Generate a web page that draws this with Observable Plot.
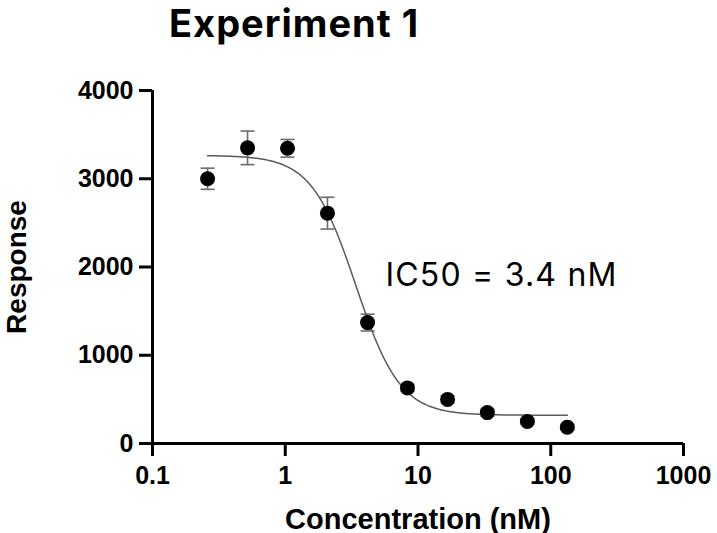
<!DOCTYPE html>
<html>
<head>
<meta charset="utf-8">
<script src="https://cdn.jsdelivr.net/npm/d3@7"></script>
<script src="https://cdn.jsdelivr.net/npm/@observablehq/plot@0.6"></script>
<style>
  html, body { margin: 0; padding: 0; background: #fff; }
  #chart { position: relative; width: 717px; height: 533px; }
  #title {
    position: relative; height: 60px;
  }
  #title span {
    position: absolute; left: 169px; top: 4px;
    font-family: Inter, "Liberation Sans", sans-serif;
    font-weight: 700; font-size: 38px; line-height: 1; color: #000;
    letter-spacing: 1px; white-space: nowrap;
  }
  .ic50 text { letter-spacing: 1.2px; }
</style>
</head>
<body>
<div id="chart">
  <div id="title"><span>Experiment 1</span></div>
</div>
<script>
// Dose–response measurements (two-fold dilution series)
const concentrations = [0.26, 0.52, 1.04, 2.08, 4.17, 8.33, 16.7, 33.3, 66.7, 133.3]; // nM
const responses      = [3000, 3350, 3345, 2610, 1370, 630, 500, 350, 250, 185];
const errors         = [120, 190, 100, 180, 95, 40, 40, 40, 30, 30];

// Four-parameter logistic fit
const fitTop = 3265;
const fitBottom = 320;
const ic50 = 3.4;      // nM
const hillSlope = 2.6;

const xTicks = [0.1, 1, 10, 100, 1000];
const yTicks = [0, 1000, 2000, 3000, 4000];

const points = concentrations.map((c, i) => ({conc: c, resp: responses[i], err: errors[i]}));

const logMin = Math.log10(concentrations[0]);
const logMax = Math.log10(concentrations[concentrations.length - 1]);
const fitCurve = d3.range(0, 241).map(i => {
  const c = Math.pow(10, logMin + (i / 240) * (logMax - logMin));
  return {conc: c, resp: fitBottom + (fitTop - fitBottom) / (1 + Math.pow(c / ic50, hillSlope))};
});

// Horizontal cap used at the ends of each error bar
const capSymbol = {
  draw(context) {
    context.moveTo(-7, 0);
    context.lineTo(7, 0);
  }
};

const barColor = "#6b6b6b";
const axisFont = "'Liberation Sans', Arial, sans-serif";

const plot = Plot.plot({
  width: 717,
  height: 473,
  marginTop: 30,
  marginBottom: 90,
  marginLeft: 152,
  marginRight: 34,
  style: {fontFamily: axisFont, color: "#000", background: "#fff", overflow: "visible"},
  x: {type: "log", domain: [xTicks[0], xTicks[xTicks.length - 1]]},
  y: {domain: [yTicks[0], yTicks[yTicks.length - 1]]},
  marks: [
    // axis lines
    Plot.ruleY([yTicks[0]], {x1: xTicks[0], x2: xTicks[xTicks.length - 1], stroke: "#000", strokeWidth: 3}),
    Plot.ruleX([xTicks[0]], {y1: yTicks[0], y2: yTicks[yTicks.length - 1], stroke: "#000", strokeWidth: 3}),
    Plot.axisX({
      ticks: xTicks, tickFormat: d => String(d), tickSize: 13, tickPadding: 10,
      strokeWidth: 3, fontSize: 25, fontWeight: "bold", label: null
    }),
    Plot.axisY({
      ticks: yTicks, tickFormat: d => String(d), tickSize: 13, tickPadding: 6,
      strokeWidth: 3, fontSize: 25, fontWeight: "bold", label: null
    }),
    // axis titles
    Plot.text(["Concentration (nM)"], {
      frameAnchor: "bottom", lineAnchor: "bottom", textAnchor: "middle", dy: 85,
      fontSize: 29, fontWeight: "bold", fill: "#000"
    }),
    Plot.text(["Response"], {
      frameAnchor: "left", lineAnchor: "bottom", textAnchor: "middle", rotate: -90, dx: -127,
      fontSize: 28, fontWeight: "bold", fill: "#000"
    }),
    // error bars
    Plot.ruleX(points, {x: "conc", y1: d => d.resp - d.err, y2: d => d.resp + d.err, stroke: barColor, strokeWidth: 1.6}),
    Plot.dot(points, {x: "conc", y: d => d.resp + d.err, symbol: capSymbol, fill: "none", stroke: barColor, strokeWidth: 1.6}),
    Plot.dot(points, {x: "conc", y: d => d.resp - d.err, symbol: capSymbol, fill: "none", stroke: barColor, strokeWidth: 1.6}),
    // fitted curve
    Plot.line(fitCurve, {x: "conc", y: "resp", stroke: "#5a5a5a", strokeWidth: 1.5, curve: "linear"}),
    // mean values
    Plot.dot(points, {x: "conc", y: "resp", r: 7.5, fill: "#000", stroke: "none"}),
    // IC50 annotation
    Plot.text([`IC50 = ${ic50} nM`], {
      x: 5.69, y: 1790, textAnchor: "start", lineAnchor: "bottom", className: "ic50",
      fontSize: 32, fontFamily: "Inter, 'Liberation Sans', sans-serif", fontWeight: 400, fill: "#000"
    })
  ]
});

document.getElementById("chart").appendChild(plot);
</script>
</body>
</html>
